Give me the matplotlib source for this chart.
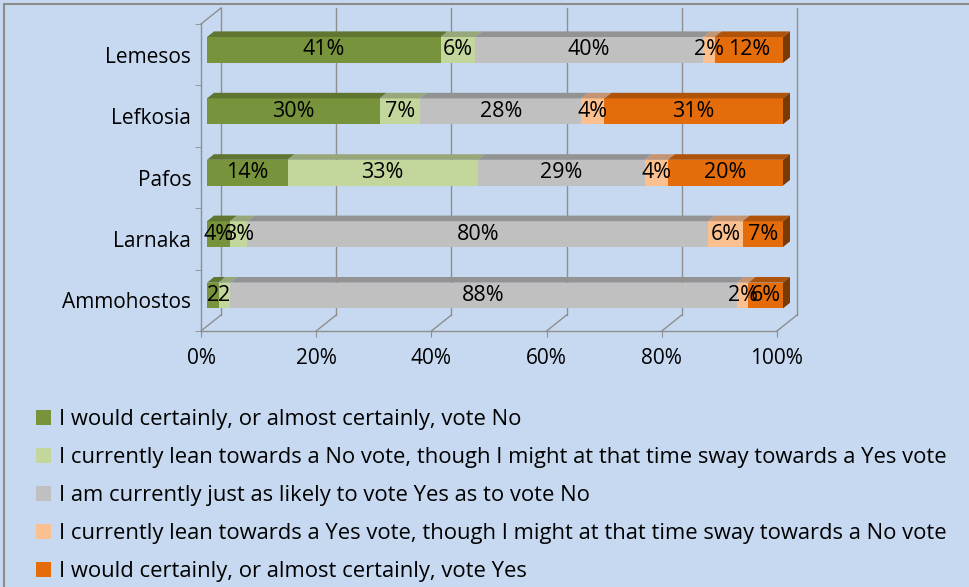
"""Cyprus referendum voting intention by district, drawn as a 3-D looking
100% stacked bar chart (Excel style)."""

import matplotlib
matplotlib.use("Agg")
import matplotlib.pyplot as plt
from matplotlib.patches import Polygon, Rectangle

# ---- data (bottom to top) ----
regions = ["Ammohostos", "Larnaka", "Pafos", "Lefkosia", "Lemesos"]
certain_no = [2, 4, 14, 30, 41]
lean_no = [2, 3, 33, 7, 6]
undecided = [88, 80, 29, 28, 40]
lean_yes = [2, 6, 4, 4, 2]
certain_yes = [6, 7, 20, 31, 12]

series_names = [
    "I would certainly, or almost certainly, vote No",
    "I currently lean towards a No vote, though I might at that time sway towards a Yes vote",
    "I am currently just as likely to vote Yes as to vote No",
    "I currently lean towards a Yes vote, though I might at that time sway towards a No vote",
    "I would certainly, or almost certainly, vote Yes",
]
x_ticks = [0, 0.2, 0.4, 0.6, 0.8, 1.0]
x_tick_labels = ["0%", "20%", "40%", "60%", "80%", "100%"]
# the two tiny Ammohostos labels lose their "%" in the original
label_overrides = {(0, 0): "2", (0, 1): "2"}

# ---- style ----
BG = "#C6D9F0"
GRID = "#8E8E8E"
FONT = "Open Sans"
front_colors = ["#77933C", "#C3D69B", "#C0C0C0", "#FAC090", "#E46C0A"]
top_colors = ["#5F7530", "#98A77A", "#939393", "#C49473", "#B0530A"]
side_color = "#7A3A06"

W, H, DPI = 969, 587, 100
AX_L, AX_R, AX_T, AX_B = 201, 777, 24, 331     # front plane in pixels
BACK = (20, 16)          # wall depth in px
BAR_FRONT = (6, 4.8)     # bar front face offset in px
BAR_DEPTH = (7, 5.6)     # bar thickness in px
BAR_H = 0.42

plt.rcParams["font.family"] = [FONT, "DejaVu Sans"]

fig = plt.figure(figsize=(W / DPI, H / DPI), dpi=DPI, facecolor=BG)
ax = fig.add_axes([AX_L / W, 1 - AX_B / H, (AX_R - AX_L) / W, (AX_B - AX_T) / H])
ax.set_facecolor("none")
ax.set_xlim(0, 1)
ax.set_ylim(-0.5, len(regions) - 0.5)
for s in ax.spines.values():
    s.set_visible(False)

sx = 1.0 / (AX_R - AX_L)                 # data units per px
sy = len(regions) / (AX_B - AX_T)


def off(p):
    return p[0] * sx, p[1] * sy


bx, by = off(BACK)
y0, y1 = -0.5, len(regions) - 0.5

# walls and floor
line_kw = dict(color=GRID, lw=1, clip_on=False, zorder=1)
for xt in x_ticks:
    ax.plot([xt + bx, xt + bx], [y0 + by, y1 + by], **line_kw)
    ax.plot([xt, xt + bx], [y0, y0 + by], **line_kw)
ax.plot([0, 1], [y0, y0], **line_kw)
ax.plot([0, 0], [y0, y1], **line_kw)
ax.plot([0, bx], [y1, y1 + by], **line_kw)

# ticks
ax.set_xticks(x_ticks)
ax.set_xticklabels(x_tick_labels, fontsize=15)
ax.tick_params(axis="x", length=4, color=GRID, pad=8)
ax.set_yticks(range(len(regions)))
ax.set_yticklabels(regions, fontsize=15)
ax.tick_params(axis="y", which="major", length=0, pad=7)
ax.set_yticks([i - 0.5 for i in range(len(regions) + 1)], minor=True)
ax.tick_params(axis="y", which="minor", length=4, color=GRID)

# bars
fx, fy = off(BAR_FRONT)
dx, dy = off(BAR_DEPTH)
series = [certain_no, lean_no, undecided, lean_yes, certain_yes]
for i in range(len(regions)):
    vals = [s[i] for s in series]
    total = float(sum(vals))
    left = 0.0
    yb = i - BAR_H / 2 + fy
    yt = i + BAR_H / 2 + fy
    for j, v in enumerate(vals):
        w = v / total
        xl = left + fx
        xr = left + w + fx
        ax.add_patch(Rectangle((xl, yb), w, BAR_H, facecolor=front_colors[j],
                               edgecolor="none", zorder=2, clip_on=False))
        ax.add_patch(Polygon([(xl, yt), (xr, yt), (xr + dx, yt + dy), (xl + dx, yt + dy)],
                             closed=True, facecolor=top_colors[j], edgecolor="none",
                             zorder=2, clip_on=False))
        if j == len(vals) - 1:
            ax.add_patch(Polygon([(xr, yb), (xr + dx, yb + dy), (xr + dx, yt + dy), (xr, yt)],
                                 closed=True, facecolor=side_color, edgecolor="none",
                                 zorder=2, clip_on=False))
        txt = label_overrides.get((i, j), f"{v}%")
        ax.text(xl + w / 2, i + fy, txt, ha="center", va="center", fontsize=15.5,
                color="black", zorder=3, clip_on=False)
        left += w

# legend
handles = [Rectangle((0, 0), 1, 1, facecolor=c, edgecolor="none") for c in front_colors]
fig.legend(handles, series_names, loc="upper left", bbox_to_anchor=(27 / W, 1 - 400 / H),
           frameon=False, fontsize=15.8, handlelength=0.68, handleheight=0.68,
           handletextpad=0.4, labelspacing=0.78, borderaxespad=0)

# chart border (only left/top visible in the crop)
fig.patches.append(Rectangle((4 / W, -0.1), 1.2, 1 - 4 / H + 0.1, transform=fig.transFigure,
                             facecolor="none", edgecolor="#8C8C8C", lw=1.5))

fig.savefig("out.png", dpi=DPI, facecolor=BG)
